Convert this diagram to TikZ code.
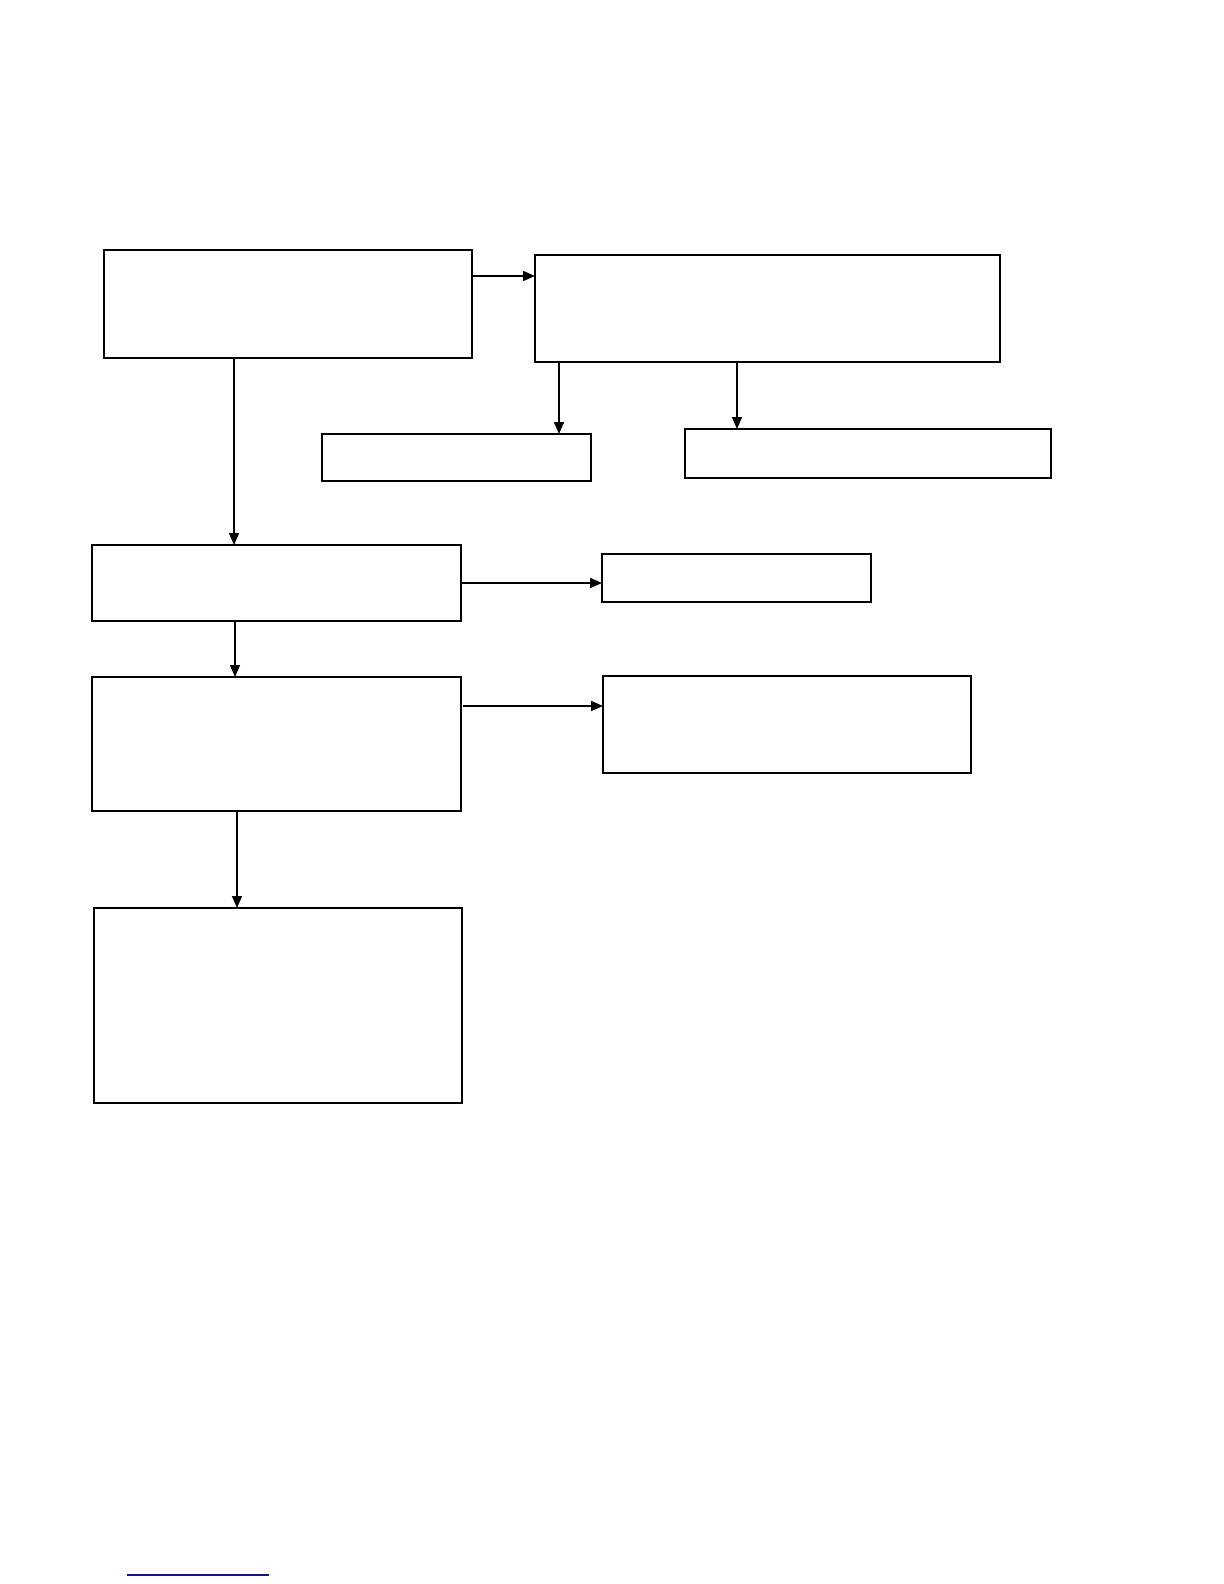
\documentclass[tikz,border=0pt]{standalone}
\usepackage{tikz}
\usetikzlibrary{arrows.meta, calc}

\definecolor{linkblue}{RGB}{20,20,150}

\tikzset{
    box/.style={draw, line width=1pt, rectangle, anchor=north west, inner sep=0pt, outer sep=0pt},
    arr/.style={-{Triangle[length=6pt, width=5pt]}, line width=0.8pt}
}

\begin{document}
\begin{tikzpicture}[x=0.5pt, y=-0.5pt]
            \useasboundingbox (0,0) rectangle (1224,1584);

            \node[box, minimum width=184pt, minimum height=54pt] (A) at (104,250) {};
            \node[box, minimum width=232.5pt, minimum height=53.5pt] (B) at (535,255) {};
            \node[box, minimum width=134.5pt, minimum height=23.5pt] (C) at (322,434) {};
            \node[box, minimum width=183pt, minimum height=24.5pt] (D) at (685,429) {};

            \node[box, minimum width=184.5pt, minimum height=38pt] (E) at (92,545) {};
            \node[box, minimum width=134.5pt, minimum height=24pt] (F) at (602,554) {};
            \node[box, minimum width=184.5pt, minimum height=67pt] (G) at (92,677) {};
            \node[box, minimum width=184pt, minimum height=48.5pt] (H) at (603,676) {};
            \node[box, minimum width=184pt, minimum height=97.5pt] (I) at (94,908) {};

            % top row
            \coordinate (ab) at ([yshift=-13pt]A.north east);
            \draw[arr] (ab) -- (ab -| B.west);
            \coordinate (bc) at ([xshift=12pt]B.south west);
            \draw[arr] (bc) -- (bc |- C.north);
            \coordinate (bd) at ([xshift=101pt]B.south west);
            \draw[arr] (bd) -- (bd |- D.north);

            % left column
            \coordinate (ae) at ([xshift=65pt]A.south west);
            \draw[arr] (ae) -- (ae |- E.north);
            \draw[arr] (E.east) -- (E.east -| F.west);
            \coordinate (eg) at ([xshift=71.5pt]E.south west);
            \draw[arr] (eg) -- (eg |- G.north);
            \coordinate (gh) at ([xshift=1pt, yshift=-14.5pt]G.north east);
            \draw[arr] (gh) -- (gh -| H.west);
            \coordinate (gi) at ([xshift=72.5pt]G.south west);
            \draw[arr] (gi) -- (gi |- I.north);

            \draw[linkblue, line width=0.6pt] (127,1575) -- (269,1575);
        \end{tikzpicture}
\end{document}
